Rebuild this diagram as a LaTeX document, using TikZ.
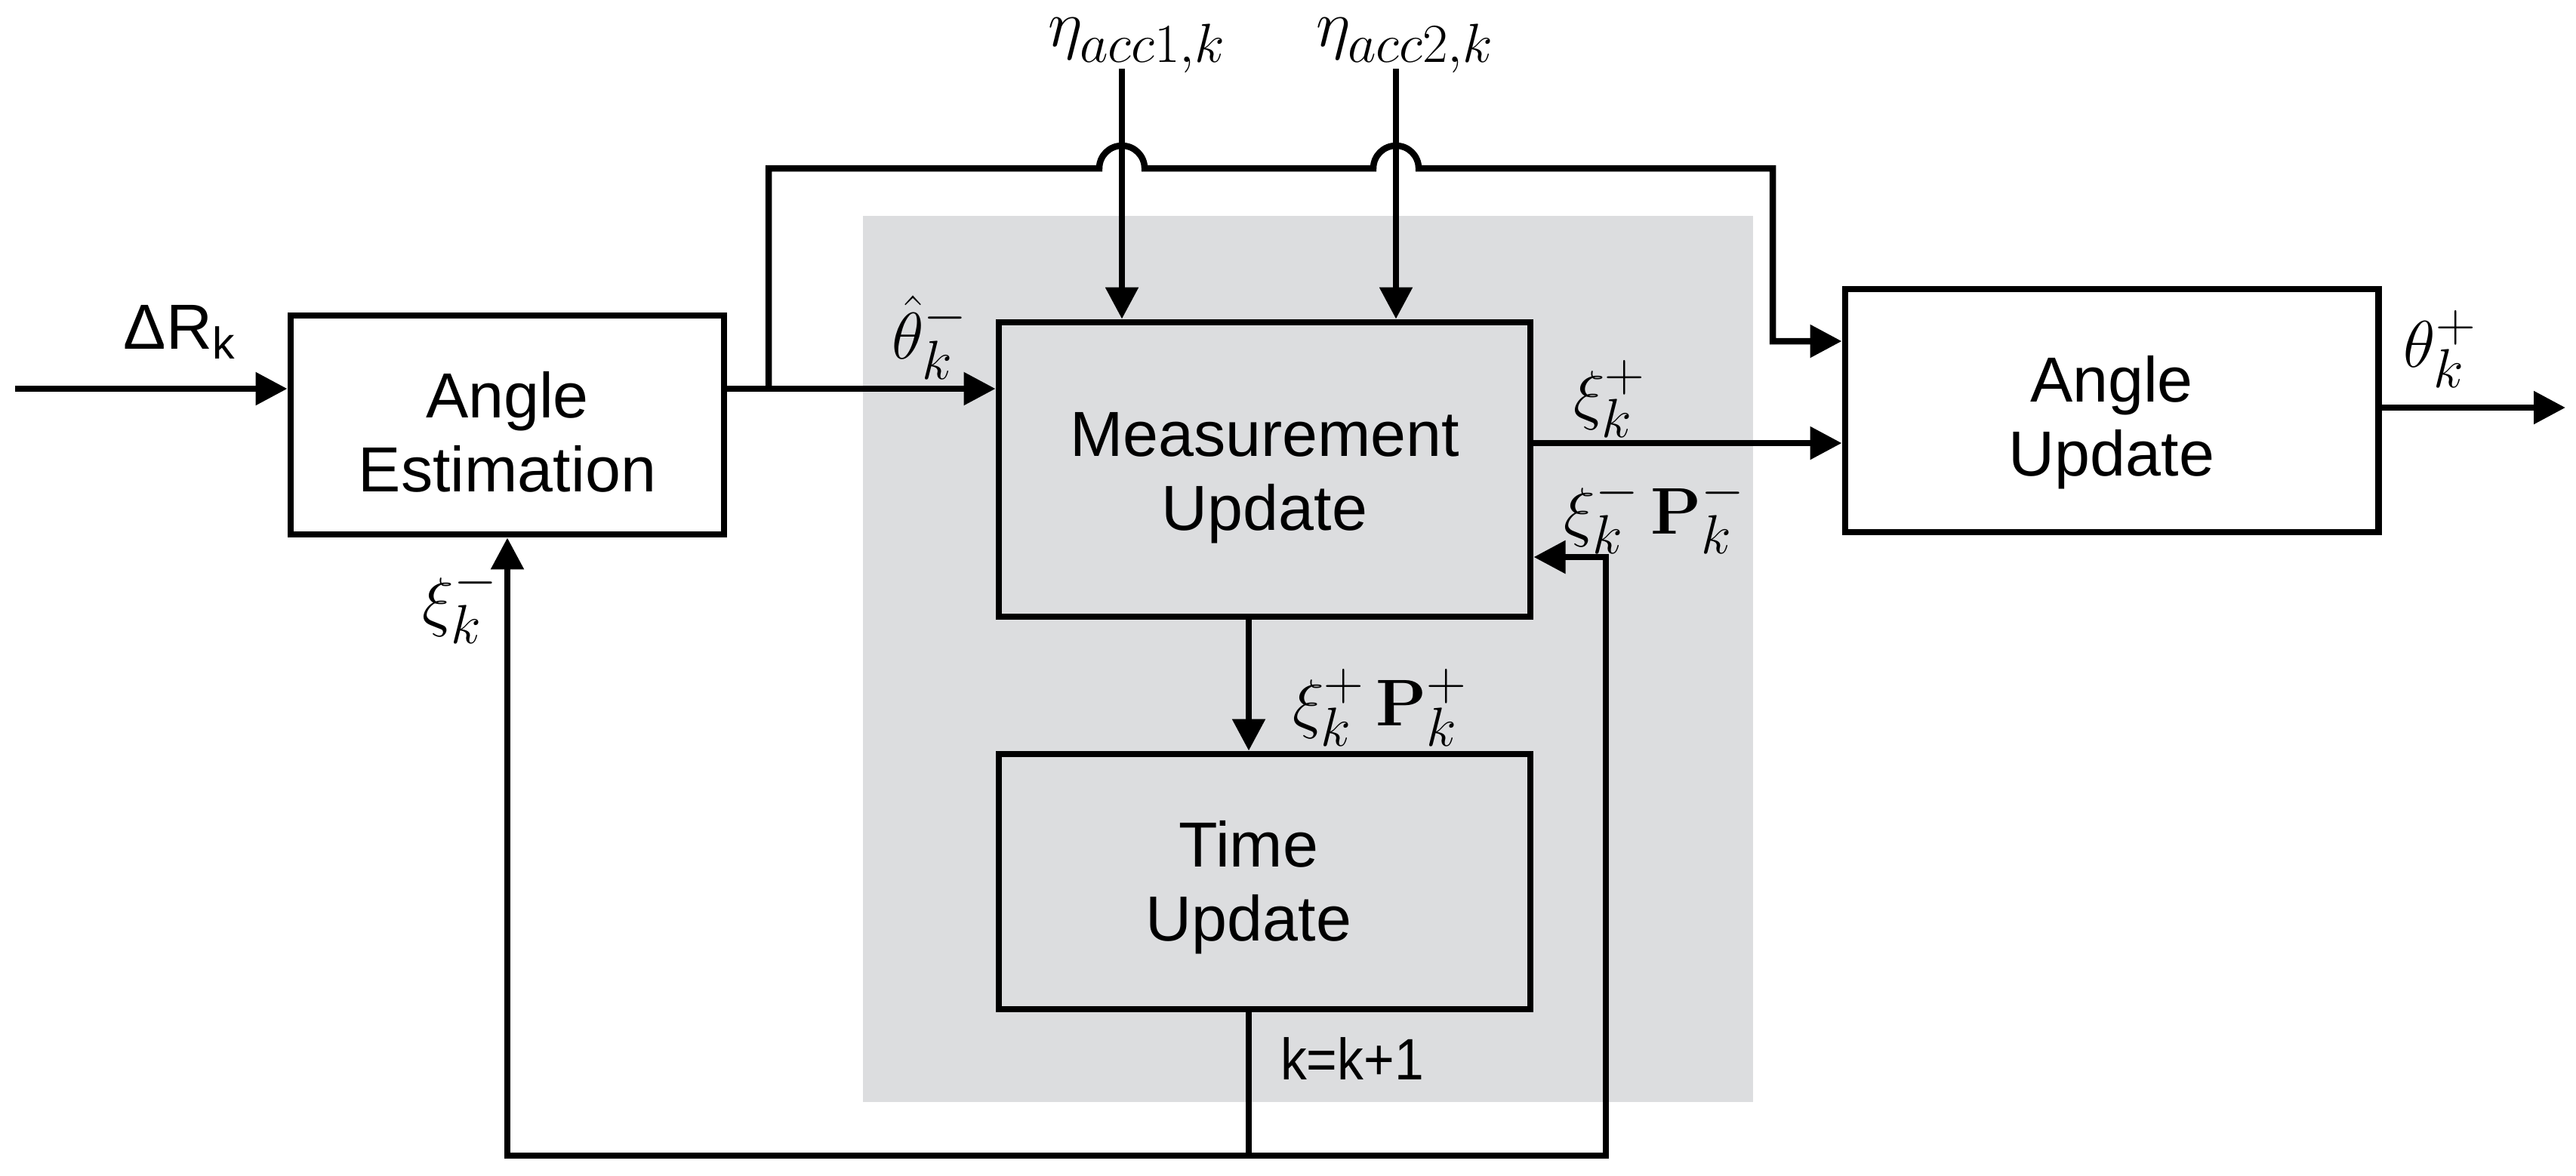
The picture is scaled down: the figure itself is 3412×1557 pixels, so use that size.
\documentclass[tikz,border=0pt]{standalone}
\usepackage[no-math]{fontspec}
\setmainfont{Liberation Sans}
\usetikzlibrary{arrows.meta,calc}
\DeclareMathSizes{25}{25}{20}{15}
\newcommand{\blktext}[3][0cm]{\raisebox{-#2}[\height][\depth]{\begin{tabular}{@{}c@{}}#3\end{tabular}}\hspace*{#1}}
\begin{document}
\begin{tikzpicture}[x=0.01cm,y=-0.01cm,
  line/.style={line width=0.085cm},
  arr/.style={line width=0.085cm,-{Triangle[length=0.42cm,width=0.42cm]}},
  blk/.style={draw,line width=0.085cm,inner sep=0pt,
    font=\fontsize{24}{28}\selectfont},
  sanslbl/.style={inner sep=0pt,font=\fontsize{24}{28}\selectfont},
  mlbl/.style={inner sep=0pt,font=\fontsize{25}{30}\selectfont}]
\useasboundingbox (0,0) rectangle (3412,1557);
% grey background
\fill[fill={rgb,255:red,220;green,221;blue,223}] (1143,286) rectangle (2322,1460);
% blocks
\node[blk,fill=white,minimum width=5.74cm,minimum height=2.90cm] (AE) at (672,563) {\blktext{0.2cm}{Angle\\Estimation}};
\node[blk,minimum width=7.04cm,minimum height=3.90cm] (MU) at (1675,622) {\blktext{0.12cm}{Measurement\\Update}};
\node[blk,minimum width=7.04cm,minimum height=3.38cm] (TU) at (1675,1168) {\blktext[0.42cm]{0.1cm}{Time\\Update}};
\node[blk,fill=white,minimum width=7.06cm,minimum height=3.22cm] (AU) at (2797,544) {\blktext{0.18cm}{Angle\\Update}};
% coordinates
\coordinate (in1) at (20,515);
\coordinate (br) at (1018,515);
\coordinate (tl) at (1018,223);
\coordinate (tr) at (2348,223);
\coordinate (ai) at (2348,452);
\coordinate (e1) at (1486,91);
\coordinate (e2) at (1849,91);
\coordinate (xp) at (2100,587);
\coordinate (out) at (3398,540);
\coordinate (kx) at (1654,1531);
\coordinate (bl) at (672,1531);
\coordinate (br2) at (2127,1531);
\coordinate (fb) at (2127,738);
% connectors
\draw[arr] (in1) -- (in1 -| AE.west);
\draw[arr] (AE.east |- in1) -- (MU.west |- in1);
\draw[arr] (br) -- (tl) -- ($(e1 |- tl)+(-30,0)$) arc[start angle=180,end angle=0,radius=0.3cm]
  -- ($(e2 |- tl)+(-30,0)$) arc[start angle=180,end angle=0,radius=0.3cm]
  -- (tr) -- (ai) -- (AU.west |- ai);
\draw[arr] (e1) -- (e1 |- MU.north);
\draw[arr] (e2) -- (e2 |- MU.north);
\draw[arr] (MU.east |- xp) -- (AU.west |- xp);
\draw[arr] (AU.east |- out) -- (out);
\draw[arr] (kx |- MU.south) -- (kx |- TU.north);
\draw[line] (kx |- TU.south) -- (kx);
\draw[arr] (kx) -- (bl) -- (AE.south);
\draw[arr] (kx) -- (br2) -- (fb) -- (MU.east |- fb);
% labels
\node[sanslbl] (lR) at (238,440) {ΔR\textsubscript{k}};
\node[mlbl] (leta1) at (1506,60) {$\eta_{acc1,k}$};
\node[mlbl] (leta2) at (1861,60) {$\eta_{acc2,k}$};
\node[mlbl] (lth) at (1232,447) {$\hat{\theta}_k^-$};
\node[mlbl] (lxim) at (610,800) {$\xi_k^-$};
\node[mlbl] (lxip) at (2132,528) {$\xi_k^+$};
\node[mlbl] (lxpm) at (2192,681) {$\xi_k^-\mkern3mu\mathbf{P}_k^-$};
\node[mlbl] (lxpp) at (1828,937) {$\xi_k^+\mkern3mu\mathbf{P}_k^+$};
\node[mlbl] (lthp) at (3232,462) {$\theta_k^+$};
\node[sanslbl,font=\fontsize{22}{26}\selectfont] (lk) at (1791,1402) {\scalebox{0.9}[1]{k=k+1}};
\end{tikzpicture}
\end{document}
